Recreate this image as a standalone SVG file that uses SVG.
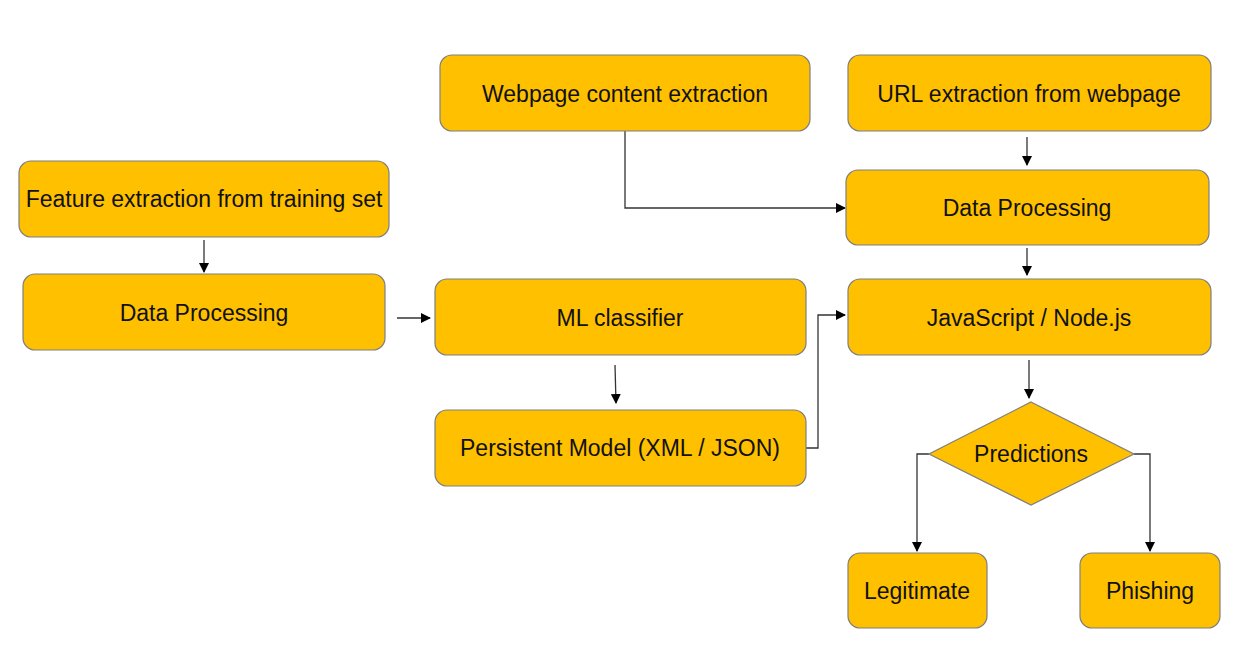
<svg xmlns="http://www.w3.org/2000/svg" width="1250" height="665" viewBox="0 0 1250 665">
<style>
.n{fill:#FFC000;stroke:#7F7F7F;stroke-width:1.2}
.t{font-family:"Liberation Sans",Arial,sans-serif;font-size:23px;fill:#111;text-anchor:middle;dominant-baseline:central}
.c{fill:none;stroke:#333;stroke-width:1.3}
</style>
<defs>
<marker id="ah" markerWidth="10" markerHeight="10" refX="9" refY="5" orient="auto" markerUnits="userSpaceOnUse">
<path d="M0,0 L10,5 L0,10 z" fill="#000"/>
</marker>
</defs>
<rect width="1250" height="665" fill="#fff"/>
<g id="connectors">
<path class="c" d="M204,240 V272" marker-end="url(#ah)"/>
<path class="c" d="M397,318 H430" marker-end="url(#ah)"/>
<path class="c" d="M615,365 L616,403" marker-end="url(#ah)"/>
<path class="c" d="M625,131 V208 H845" marker-end="url(#ah)"/>
<path class="c" d="M1027,137 V165" marker-end="url(#ah)"/>
<path class="c" d="M1027,248 V275" marker-end="url(#ah)"/>
<path class="c" d="M806,448 H818 V315 H845" marker-end="url(#ah)"/>
<path class="c" d="M1029,360 V398" marker-end="url(#ah)"/>
<path class="c" d="M929,454 H917 V551" marker-end="url(#ah)"/>
<path class="c" d="M1134,454 H1150 V551" marker-end="url(#ah)"/>
</g>
<g id="webpage"><rect class="n" x="440" y="55" width="370" height="76" rx="12"/><text class="t" x="625" y="94">Webpage content extraction</text></g>
<g id="url"><rect class="n" x="848" y="55" width="363" height="76" rx="12"/><text class="t" x="1029" y="94">URL extraction from webpage</text></g>
<g id="feature"><rect class="n" x="19" y="161" width="370" height="76" rx="12"/><text class="t" x="204" y="199">Feature extraction from training set</text></g>
<g id="dp-left"><rect class="n" x="23" y="274" width="362" height="76" rx="12"/><text class="t" x="204" y="313">Data Processing</text></g>
<g id="dp-right"><rect class="n" x="846" y="170" width="363" height="75" rx="12"/><text class="t" x="1027" y="208">Data Processing</text></g>
<g id="ml"><rect class="n" x="435" y="279" width="371" height="76" rx="12"/><text class="t" x="620" y="318">ML classifier</text></g>
<g id="js"><rect class="n" x="848" y="279" width="363" height="76" rx="12"/><text class="t" x="1029" y="318">JavaScript / Node.js</text></g>
<g id="persistent"><rect class="n" x="435" y="410" width="371" height="76" rx="12"/><text class="t" x="620" y="448">Persistent Model (XML / JSON)</text></g>
<g id="predictions"><polygon class="n" points="1031,402 1134,454 1031,505 929,454"/><text class="t" x="1031" y="454">Predictions</text></g>
<g id="legitimate"><rect class="n" x="848" y="553" width="139" height="75" rx="12"/><text class="t" x="917" y="591">Legitimate</text></g>
<g id="phishing"><rect class="n" x="1080" y="553" width="140" height="75" rx="12"/><text class="t" x="1150" y="591">Phishing</text></g>
</svg>
